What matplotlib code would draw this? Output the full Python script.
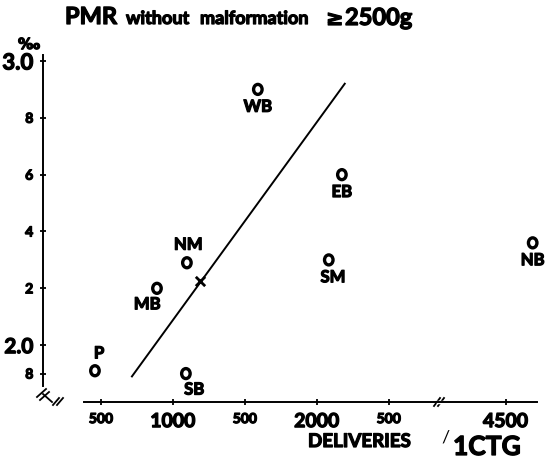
import numpy as np
import matplotlib
matplotlib.use("Agg")
import matplotlib.pyplot as plt
import matplotlib.text as mtext
import matplotlib.patheffects as pe
from matplotlib.markers import MarkerStyle
from matplotlib.transforms import Affine2D

plt.rcParams['font.family'] = ['Lato', 'DejaVu Sans']
plt.rcParams['font.weight'] = 'bold'

# ---- data (deliveries per CTG, PMR in per mille) ----
labels = ['WB', 'EB', 'SM', 'NB', 'NM', 'MB', 'P', 'SB']
deliveries = [1590, 2174, 2083, 4688, 1097, 889, 458, 1090]
pmr = [2.90, 2.60, 2.30, 2.36, 2.29, 2.20, 1.91, 1.90]
# label offsets (points) relative to the point marker
label_dx = [0, 0, 3, 0, 1, -7, 3, 6]
label_dy = [-12.5, -12.5, -12.5, -12.5, 13, -11.5, 12.5, -11.5]

mean_x = [1188]
mean_y = [2.225]

reg_x = [715, 2194]
reg_y = [1.89, 2.92]

xticks = [500, 1000, 1500, 2000, 2500, 4500]
xticklabels = ['500', '1000', '500', '2000', '500', '4500']
xtick_sizes = [10, 14, 10, 14, 10, 14]

yticks = [1.9, 2.0, 2.2, 2.4, 2.6, 2.8, 3.0]
yticklabels = ['8', '2.0', '2', '4', '6', '8', '3.0']
ytick_sizes = [10, 15, 10, 10, 10, 10, 16]

# broken x axis: compress 2840..4400
brk_d = [0, 2840, 4400, 8000]
brk_p = [0, 2840, 3212, 6812]


def fwd(x):
    return np.interp(x, brk_d, brk_p)


def inv(p):
    return np.interp(p, brk_p, brk_d)


W, H = 546, 460
fig = plt.figure(figsize=(W / 100, H / 100), dpi=100)
ax = fig.add_axes([43 / W, 1 - 403 / H, (537 - 43) / W, (403 - 56.3) / H])
ax.set_xscale('function', functions=(fwd, inv))
ax.set_xlim(97, inv(3530))
ax.set_ylim(1.80, 3.02)

for s in ['top', 'right']:
    ax.spines[s].set_visible(False)
ax.spines['left'].set_bounds(1.855, 3.02)
ax.spines['bottom'].set_bounds(inv(380), inv(3530))
for s in ['left', 'bottom']:
    ax.spines[s].set_linewidth(1.4)

ax.set_xticks(xticks)
ax.set_xticklabels(xticklabels)
ax.set_yticks(yticks)
ax.set_yticklabels(yticklabels)
ax.tick_params(axis='both', direction='inout', length=4, width=1.3)
ax.tick_params(axis='x', pad=6)
ax.tick_params(axis='y', pad=5)
for t, s in zip(ax.get_xticklabels(), xtick_sizes):
    t.set_fontsize(s)
    t.set_fontweight('bold')
for t, s in zip(ax.get_yticklabels(), ytick_sizes):
    t.set_fontsize(s)
    t.set_fontweight('bold')

# points
mk = MarkerStyle('o', transform=Affine2D().scale(0.85, 1.0))
ax.scatter(deliveries, pmr, marker=mk, s=52, facecolors='none',
           edgecolors='black', linewidths=2.4, zorder=3, clip_on=False)
for lab, x, y, dx, dy in zip(labels, deliveries, pmr, label_dx, label_dy):
    ax.annotate(lab, (x, y), xytext=(dx, dy), textcoords='offset points',
                ha='center', va='center', fontsize=12, fontweight='bold',
                annotation_clip=False)

ax.plot(reg_x, reg_y, color='black', lw=1.4)
ax.scatter(mean_x, mean_y, marker='x', s=45, color='black', linewidths=2.0, zorder=3)

# axis break marks (decoration)
tr = ax.transAxes


def px2ax(px, py):
    return ((px - 43) / (537 - 43), (403 - py) / (403 - 56.3))


for (x0, y0, x1, y1) in [(37, 398, 46, 390), (40, 401, 49, 393),
                          (53, 406, 59, 399), (57, 406, 63, 399),
                          (434, 407, 440, 399), (438, 407, 444, 399)]:
    a = px2ax(x0, y0)
    b = px2ax(x1, y1)
    ax.plot([a[0], b[0]], [a[1], b[1]], transform=tr, color='black', lw=1.3, clip_on=False)
a = px2ax(43, 395)
b = px2ax(52, 403)
ax.plot([a[0], b[0]], [a[1], b[1]], transform=tr, color='black', lw=1.3, clip_on=False)
a = px2ax(438, 403)
b = px2ax(441, 403)
ax.plot([a[0], b[0]], [a[1], b[1]], transform=tr, color='white', lw=2.5, clip_on=False)


# titles and axis texts
def ftext(px, py, s, size, **kw):
    fig.text(px / W, 1 - py / H, s, fontsize=size, fontweight='bold',
             va='baseline', **kw)


ftext(65, 25, 'PMR', 17)
ftext(126, 25, 'without', 13)
ftext(200, 25, 'malformation', 13)
ftext(326, 26, '≥', 15, family=['DejaVu Sans'])
ftext(345, 26, '2500g', 17)
ftext(18, 50, '‰', 11, family=['DejaVu Sans'])
ftext(308, 448, 'DELIVERIES', 13.5)
fig.text(441 / W, 1 - 443 / H, '/', fontsize=13, fontweight='normal', va='baseline')
ftext(453, 456, '1CTG', 19)

# heavier strokes to mimic the bold print face
for t in fig.findobj(mtext.Text):
    if t.get_text() and t.get_text() != '/':
        t.set_path_effects([pe.withStroke(linewidth=0.9, foreground='black')])

fig.savefig('out.png', dpi=100)
